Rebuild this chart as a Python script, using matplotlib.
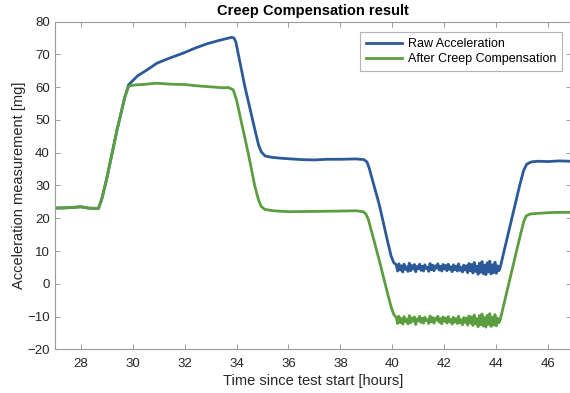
import numpy as np
import matplotlib
matplotlib.use("Agg")
import matplotlib.pyplot as plt

plt.rcParams['font.family'] = ['Liberation Sans', 'DejaVu Sans']

# ---- raw acceleration (breakpoints outside the low plateau) ----
raw_t_a = [27.0, 27.5, 28.0, 28.3, 28.68, 28.8, 29.0, 29.4, 29.7, 29.85,
           30.2, 30.6, 30.93, 31.4, 31.95, 32.4, 32.85, 33.3, 33.65, 33.81,
           33.9, 33.97, 34.32, 34.71, 34.85, 34.95, 35.1, 35.35, 35.74, 36.5, 37.0,
           37.5, 38.0, 38.6, 38.9, 39.02, 39.1, 39.5, 39.8, 39.95, 40.05, 40.15]
raw_v_a = [23.1, 23.2, 23.5, 23.1, 23.0, 25.5, 32.0, 47.0, 57.0, 60.8,
           63.5, 65.5, 67.3, 68.8, 70.4, 71.9, 73.2, 74.2, 74.9, 75.2,
           75.0, 73.9, 60.2, 46.9, 42.3, 40.3, 39.0, 38.6, 38.3, 37.9, 37.8,
           38.0, 38.0, 38.1, 37.9, 37.2, 35.5, 24.0, 13.5, 8.5, 6.5, 5.8]
raw_t_b = [44.15, 44.3, 44.6, 44.9, 45.05, 45.17, 45.35, 45.6, 46.0, 46.4, 46.86]
raw_v_b = [5.0, 10.0, 20.0, 30.0, 34.5, 36.5, 37.2, 37.4, 37.3, 37.5, 37.4]

# ---- compensated acceleration ----
comp_t_a = [27.0, 27.5, 28.0, 28.3, 28.68, 28.8, 29.0, 29.4, 29.7, 29.85,
            30.0, 30.5, 30.93, 31.5, 32.0, 32.5, 33.0, 33.5, 33.68, 33.87,
            34.0, 34.45, 34.71, 34.85, 34.95, 35.09, 35.4, 36.0, 37.0, 38.0, 38.6,
            38.88, 38.98, 39.08, 39.5, 39.8, 39.95, 40.05, 40.15]
comp_v_a = [23.1, 23.2, 23.5, 23.1, 23.0, 25.5, 32.0, 47.0, 57.0, 60.3,
            60.6, 60.9, 61.2, 60.9, 60.8, 60.4, 60.1, 59.8, 59.9, 59.2,
            56.1, 39.8, 29.6, 25.5, 23.6, 22.7, 22.3, 22.0, 22.1, 22.2, 22.3,
            22.0, 21.3, 19.5, 7.0, -2.5, -7.0, -9.3, -10.3]
comp_t_b = [44.15, 44.3, 44.6, 44.9, 45.05, 45.15, 45.3, 45.6, 46.0, 46.4, 46.86]
comp_v_b = [-11.0, -6.0, 4.0, 14.0, 18.8, 20.7, 21.3, 21.5, 21.7, 21.8, 21.8]

# ---- low plateau (noisy segment), sampled every 0.05 h ----
low_t = np.round(np.arange(40.2, 44.10 + 1e-6, 0.05), 2)
raw_low = [3.9, 6.1, 4.2, 5.5, 3.6, 6.0, 4.4, 5.2, 3.8, 6.3, 4.0, 5.6, 4.5, 5.9, 3.7, 5.3, 4.6,
           6.0, 4.1, 5.4, 3.9, 5.8, 4.7, 5.1, 3.8, 6.2, 4.3, 5.7, 4.0, 5.5, 4.8, 6.1, 4.2, 5.3, 3.9, 5.9, 4.5,
           5.6, 4.0, 6.0, 4.4, 5.2, 3.7, 5.8, 4.3, 5.4, 3.9, 6.1, 4.1, 5.0, 3.6, 5.7, 4.2, 5.5, 3.4, 6.2, 4.0,
           5.9, 3.3, 6.5, 3.8, 5.4, 2.9, 6.3, 3.5, 6.8, 3.1, 5.7, 2.8, 6.4, 3.6, 6.9, 3.0, 5.8, 3.4, 6.6, 3.2, 5.5, 4.0]
comp_low = [-12.1, -9.9, -11.8, -10.6, -12.3, -10.0, -11.5, -10.8, -12.2, -9.7, -11.9, -10.4, -11.4, -10.1, -12.4, -10.7, -11.3,
            -9.9, -11.8, -10.5, -12.0, -10.2, -11.2, -10.9, -12.1, -9.8, -11.6, -10.3, -12.0, -10.5, -11.1, -9.9, -11.7, -10.6, -12.2, -10.1, -11.4,
            -10.4, -12.0, -10.0, -11.6, -10.8, -12.3, -10.2, -11.7, -10.6, -12.1, -9.9, -11.9, -11.0, -12.5, -10.3, -11.8, -10.5, -12.6, -9.8, -12.0,
            -10.1, -12.7, -9.5, -12.2, -10.6, -13.1, -9.7, -12.5, -9.2, -12.9, -10.3, -13.2, -9.6, -12.4, -9.1, -13.0, -10.2, -12.6, -9.4, -12.8, -10.5, -11.9]

raw_t = np.concatenate([raw_t_a, low_t, raw_t_b])
raw_v = np.concatenate([raw_v_a, raw_low, raw_v_b])
comp_t = np.concatenate([comp_t_a, low_t, comp_t_b])
comp_v = np.concatenate([comp_v_a, comp_low, comp_v_b])

x_ticks = [28, 30, 32, 34, 36, 38, 40, 42, 44, 46]
y_ticks = [-20, -10, 0, 10, 20, 30, 40, 50, 60, 70, 80]

fig = plt.figure(figsize=(5.70, 3.93), dpi=100)
ax = fig.add_axes([0.096, 0.111, 0.905, 0.834])

ax.plot(raw_t, raw_v, color='#2c5a98', lw=2.0, label='Raw Acceleration',
        solid_joinstyle='round')
ax.plot(comp_t, comp_v, color='#5b9e3f', lw=2.0, label='After Creep Compensation',
        solid_joinstyle='round')

ax.set_xlim(27, 46.86)
ax.set_ylim(-20, 80)
ax.set_xticks(x_ticks)
ax.set_yticks(y_ticks)
ax.tick_params(direction='in', length=3.5, width=0.6, colors='#8c8c8c',
               labelcolor='#262626', labelsize=9.5, top=True, right=True)
ax.tick_params(axis='x', pad=6)
for s in ax.spines.values():
    s.set_color('#9a9a9a')
    s.set_linewidth(0.8)

ax.set_xlabel('Time since test start [hours]', fontsize=10.5, color='#262626', labelpad=3)
ax.set_ylabel('Acceleration measurement [mg]', fontsize=10.5, color='#262626', labelpad=1)
ax.set_title('Creep Compensation result', fontsize=10.5, fontweight='bold', pad=5)

leg = ax.legend(loc='upper right', bbox_to_anchor=(0.984, 0.967), fontsize=9,
                frameon=True, fancybox=False, handlelength=2.9, handletextpad=0.5,
                borderpad=0.45, labelspacing=0.25, borderaxespad=0)
leg.get_frame().set_edgecolor('#a0a0a0')
leg.get_frame().set_linewidth(0.8)

fig.savefig('out.png', dpi=100)
